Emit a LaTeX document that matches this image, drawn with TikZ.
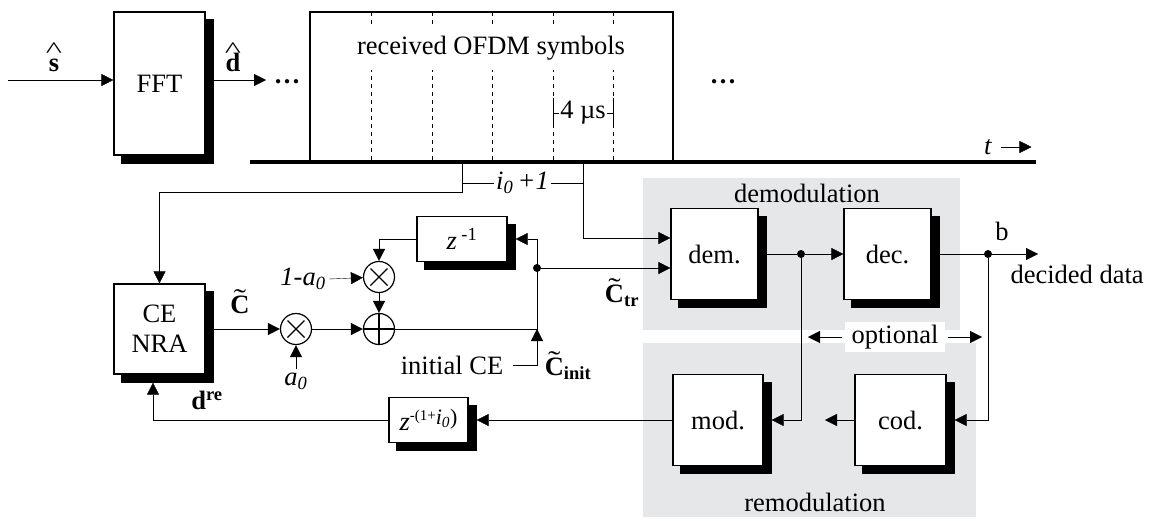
\documentclass[tikz,border=0pt]{standalone}
\usepackage{fontspec}
\setmainfont{Liberation Serif}
\usetikzlibrary{arrows.meta,calc}
\definecolor{graybg}{RGB}{230,231,232}
\pgfdeclarelayer{back}
\pgfdeclarelayer{shade}
\pgfsetlayers{back,shade,main}
\newcommand\hatover[1]{\leavevmode\setbox0\hbox{\textbf{#1}}\rlap{\hbox to\wd0{\hss\raisebox{14pt}{\scalebox{1.3}[0.85]{\textasciicircum}}\hss}}\box0}
\newcommand\tildeover[1]{\leavevmode\setbox0\hbox{\textbf{#1}}\rlap{\hbox to\wd0{\hss\raisebox{6pt}{\scalebox{1.4}[1]{\char"02DC}}\hss}}\box0}
\tikzset{
  base/.style={font=\fontsize{26.5}{30}\selectfont},
  arr/.style={-{Triangle[length=12pt,width=12pt]}},
  blk/.style={draw, line width=1.2pt, fill=white, inner sep=0pt},
  op/.style={circle, draw, line width=1.2pt, fill=white, minimum size=31pt, inner sep=0pt},
  mult/.style={op, path picture={\draw[line width=1.2pt] (path picture bounding box.center) +(-8.5,-8.5) -- +(8.5,8.5) +(-8.5,8.5) -- +(8.5,-8.5);}},
  plus/.style={op, path picture={\draw[line width=1.2pt] (path picture bounding box.center) +(-16,0) -- +(16,0) +(0,-16) -- +(0,16);}},
  jdot/.style={circle, fill=black, inner sep=0pt, minimum size=8pt},
  lbl/.style={inner sep=1pt},
}
\begin{document}
\begin{tikzpicture}[x=1pt,y=-1pt,base,line width=1.2pt]
\useasboundingbox (0,0) rectangle (1167,520);
% grey regions
\begin{pgfonlayer}{back}
\fill[graybg] (643,178) rectangle (960,330);
\fill[graybg] (643,343) rectangle (976,517);
\end{pgfonlayer}
\node[lbl] (demlab) at (807,193) {demodulation};
\node[lbl] (remlab) at (815,502) {remodulation};

% OFDM symbols
\foreach \x in {371,432,492,553,613}
  \draw[line width=0.8pt, dash pattern=on 4pt off 4pt] (\x,12) -- (\x,162);
\node[fill=white, inner xsep=2pt, inner ysep=10pt] (rec) at (491,48) {received OFDM symbols};
\node[draw, line width=2pt, minimum width=363pt, minimum height=150pt] (ofdm) at (491.5,87) {};
\coordinate (mu1) at (553,113); \coordinate (mu2) at (613,113);
\draw[line width=1pt] (553,98) -- (553,128) (613,98) -- (613,128);
\draw[line width=1pt] (mu1) -- node[fill=white, inner sep=1pt] (mulab) {4 µs} (mu2);
\coordinate (tl0) at (250,162); \coordinate (tl1) at (1036,162);
\draw[line width=3.5pt] (tl0) -- (tl1);
\node (dotsB) at (723,82) {\textbf{…}};
\node (tlab) at (988,147) {\textit{t}};
\draw[arr] ([xshift=6pt]tlab.east) -- ([xshift=36pt]tlab.east);

% FFT
\node[blk, minimum width=91pt, minimum height=143pt] (fft) at (159.5,83.5) {FFT};
\coordinate (sin) at (8,80);
\draw[arr] (sin) -- (sin -| fft.west);
\node (shat) at (54,57) {\hatover{s}};
\coordinate (dA) at (266,80);
\draw[arr] (fft.east |- sin) -- (dA);
\node (dhat) at (233,57) {\hatover{d}};
\node (dotsA) at (287,82) {\textbf{…}};

% i0+1
\coordinate (tA) at (462,162); \coordinate (tB) at (583,162);
\coordinate (iA) at (462,183); \coordinate (iB) at (583,183);
\draw (iA) -- node[fill=white, inner sep=2pt] (ilab) {\textit{i}\textsubscript{\textit{0}}\,\textit{+1}} (iB);

% CE NRA and loop
\node[blk, minimum width=91pt, minimum height=90pt, align=center] (ce) at (159.5,329) {CE\\NRA};
\coordinate (cA) at (462,192); \coordinate (cB) at (ce.north |- cA);
\draw[arr] (tA) -- (cA) -- (cB) -- (ce.north);

\node[mult] (m1) at (296,329) {};
\node[plus] (add) at (379,329) {};
\node[mult] (m2) at (379,277) {};
\node[blk, minimum width=90pt, minimum height=45pt] (z1) at (462,239) {\textit{z}\,\textsuperscript{-1}};

\draw[arr] (ce.east |- m1) -- (m1);
\node (Ct) at (240,302) {\tildeover{C}};
\node (a0) at (296,381) {\textit{a}\textsubscript{\textit{0}}};
\draw[arr] (a0.north) -- (m1.south);
\node (t1a0) at (303,279) {\textit{1-a}\textsubscript{\textit{0}}};
\draw[arr] (t1a0.east) -- (m2);
\draw[arr] (m1) -- (add);
\draw[arr] (m2) -- (add);
\draw[arr] (z1.west) -- (z1.west -| m2) -- (m2);

\coordinate (jT) at (537,239); \coordinate (jB) at (537,329); \coordinate (jI) at (537,365);
\node[jdot] (jD) at (537,268) {};
\draw (add) -- (jB) -- (jT);
\draw[arr] (jT) -- ($(z1.east)+(8,0)$);
\node (ice) at (452,365) {initial CE};
\draw[arr] ([xshift=6pt]ice.east) -- (jI) -- (jB);
\node (Cinit) at (568,366) {\tildeover{C}\textsubscript{\textbf{init}}};

% demodulation
\node[blk, minimum width=87pt, minimum height=91pt] (dem) at (714.5,254) {dem.};
\node[blk, minimum width=87pt, minimum height=91pt] (dec) at (887.5,254) {dec.};
\coordinate (dIn1) at (583,238);
\draw[arr] (tB) -- (dIn1) -- (dIn1 -| dem.west);
\draw[arr] (jD) -- (jD -| dem.west);
\node (Ctr) at (622,293) {\tildeover{C}\textsubscript{\textbf{tr}}};
\node[jdot] (dD) at (801,254) {};
\node[jdot] (bD) at (988,254) {};
\draw (dem.east) -- (dD);
\draw[arr] (dD) -- (dec.west);
\draw (dec.east) -- (bD);
\coordinate (outp) at (1038,254);
\draw[arr] (bD) -- (outp);
\node (blab) at (1002,231) {b};
\node[anchor=west] (dd) at (1007,274) {decided data};

% remodulation
\node[blk, minimum width=90pt, minimum height=91pt] (mod) at (718,420) {mod.};
\node[blk, minimum width=91pt, minimum height=91pt] (cod) at (900.5,420) {cod.};
\node[blk, minimum width=79pt, minimum height=45pt] (zd) at (428.5,420) {\textit{z}\raisebox{10pt}{\fontsize{15}{15}\selectfont -(1+}\raisebox{6pt}{\fontsize{22}{22}\selectfont\textit{i}\textsubscript{\textit{0}})}};
\draw[arr] (dD) -- (dD |- mod) -- ($(mod.east)+(8,0)$);
\draw[arr] (bD) -- (bD |- cod) -- ($(cod.east)+(8,0)$);
\coordinate (codout) at (825,420);
\draw[arr] (cod.west) -- (codout);
\draw[arr] (mod.west) -- ($(zd.east)+(8,0)$);
\coordinate (fb) at (153,420);
\coordinate (cnb) at ($(ce.south)+(0,8)$);
\draw[arr] (zd.west) -- (fb) -- (fb |- cnb);
\node (dre) at (207,400) {\textbf{d}\textsuperscript{\textbf{re}}};

% optional
\node[fill=white, minimum width=100pt, minimum height=30pt, inner sep=0pt] (opt) at (895,337) {optional};
\coordinate (oL) at (808,337); \coordinate (oR) at (982,337);
\draw[arr] ([xshift=-3pt]opt.west) -- (oL);
\draw[arr] ([xshift=3pt]opt.east) -- (oR);

% shadows
\begin{pgfonlayer}{shade}
\foreach \n in {fft,ce,z1,zd,dem,dec,mod,cod}
  \fill[black] ($(\n.north west)+(8,8)$) rectangle ($(\n.south east)+(8,8)$);
\end{pgfonlayer}
\end{tikzpicture}
\end{document}
